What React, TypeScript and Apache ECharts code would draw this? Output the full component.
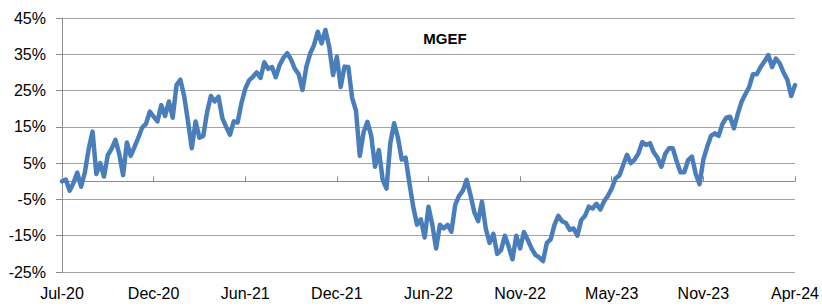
import React, { useEffect, useRef } from "react";
import * as echarts from "echarts";

const tickLabels = ["Jul-20", "Dec-20", "Jun-21", "Dec-21", "Jun-22", "Nov-22", "May-23", "Nov-23", "Apr-24"];
const pointsPerTick = 24;

const mgefSec1 = [0.0, 0.5, -2.6, -0.5, 2.4, -1.5, 2.5, 9.0, 13.7, 2.0, 5.0, 1.3, 7.2, 9.0, 11.4, 7.5, 1.7, 10.7, 7.0, 9.5, 12.0, 14.8, 15.8, 19.2];
const mgefSec2 = [17.8, 16.5, 21.0, 18.0, 22.0, 17.5, 26.5, 28.0, 23.5, 16.5, 9.1, 16.5, 12.0, 12.5, 19.0, 23.5, 22.0, 23.3, 17.4, 15.0, 12.8, 16.5, 16.2, 21.5];
const mgefSec3 = [25.5, 27.8, 28.8, 30.0, 28.5, 32.8, 31.0, 31.5, 28.7, 32.0, 34.0, 35.3, 33.5, 31.0, 29.5, 25.2, 31.5, 35.2, 37.5, 41.2, 38.0, 41.7, 37.0, 29.3];
const mgefSec4 = [34.3, 26.0, 31.6, 31.5, 23.0, 19.5, 7.0, 13.5, 16.4, 12.5, 4.0, 8.6, 0.4, -2.0, 10.5, 16.0, 12.0, 6.0, 6.5, -0.5, -7.0, -12.0, -10.5, -15.5];
const mgefSec5 = [-7.0, -12.0, -18.5, -12.0, -13.0, -12.0, -13.9, -6.5, -4.0, -2.6, 0.4, -3.8, -8.5, -11.0, -5.6, -13.0, -17.0, -14.5, -20.0, -19.0, -15.0, -18.0, -21.5, -15.0];
const mgefSec6 = [-18.5, -14.0, -16.2, -18.5, -20.3, -21.0, -22.0, -17.0, -16.0, -12.0, -9.5, -11.0, -11.5, -13.4, -13.0, -15.0, -10.7, -9.5, -7.0, -7.5, -6.2, -7.8, -5.5, -4.0];
const mgefSec7 = [-2.0, 0.8, 1.6, 4.5, 7.3, 5.0, 6.0, 7.7, 10.8, 10.0, 10.5, 8.0, 6.5, 4.0, 7.5, 9.1, 9.1, 5.5, 2.5, 2.5, 5.8, 6.8, 2.0, -0.8];
const mgefSec8 = [6.0, 9.5, 12.5, 13.2, 12.5, 15.8, 17.5, 17.8, 14.6, 18.5, 21.9, 24.0, 26.0, 29.5, 29.5, 31.5, 33.0, 34.8, 31.5, 33.8, 32.5, 30.0, 28.0, 23.5, 26.5];

const mgefValues = [
  ...mgefSec1, ...mgefSec2, ...mgefSec3, ...mgefSec4,
  ...mgefSec5, ...mgefSec6, ...mgefSec7, ...mgefSec8,
];
const categories = mgefValues.map((_, i) => String(i));

const FONT = "'Liberation Sans', Arial, sans-serif";

export default function App() {
  const ref = useRef<HTMLDivElement>(null);
  useEffect(() => {
    document.body.style.margin = "0";
    if (!ref.current) return;
    const chart = echarts.init(ref.current, undefined, { renderer: "svg" });
    chart.setOption({
      animation: false,
      backgroundColor: "#ffffff",
      grid: { left: 62, right: 23, top: 18, bottom: 36, containLabel: false },
      graphic: [
        {
          type: "text",
          x: 445,
          y: 38,
          style: {
            text: "MGEF",
            fontFamily: FONT,
            fontSize: 15,
            fontWeight: "bold",
            fill: "#000000",
            textAlign: "center",
            textVerticalAlign: "middle",
          },
        },
      ],
      xAxis: {
        type: "category",
        data: categories,
        boundaryGap: false,
        axisLine: { show: true, lineStyle: { color: "#8c8c8c", width: 1 } },
        axisTick: { show: true, inside: true, length: 5, interval: pointsPerTick - 1, lineStyle: { color: "#8c8c8c" } },
        axisLabel: {
          interval: pointsPerTick - 1,
          margin: 13,
          color: "#000000",
          fontFamily: FONT,
          fontSize: 16,
          formatter: (_v: string, idx: number) => tickLabels[Math.round(idx / pointsPerTick)] ?? "",
        },
        splitLine: { show: false },
      },
      yAxis: {
        type: "value",
        min: -25,
        max: 45,
        interval: 10,
        axisLine: { show: true, lineStyle: { color: "#8c8c8c", width: 1 } },
        axisTick: { show: true, inside: false, length: 6, lineStyle: { color: "#8c8c8c" } },
        axisLabel: {
          margin: 16,
          color: "#000000",
          fontFamily: FONT,
          fontSize: 16,
          formatter: (v: number) => `${v}%`,
        },
        splitLine: { show: true, lineStyle: { color: "#a3a3a3", width: 1 } },
      },
      series: [
        {
          type: "line",
          data: mgefValues,
          showSymbol: false,
          symbol: "none",
          smooth: false,
          lineStyle: { color: "#4a7ebb", width: 4.5, join: "round", cap: "round" },
        },
      ],
    });
    return () => chart.dispose();
  }, []);
  return <div ref={ref} style={{ width: 822, height: 308 }} />;
}
